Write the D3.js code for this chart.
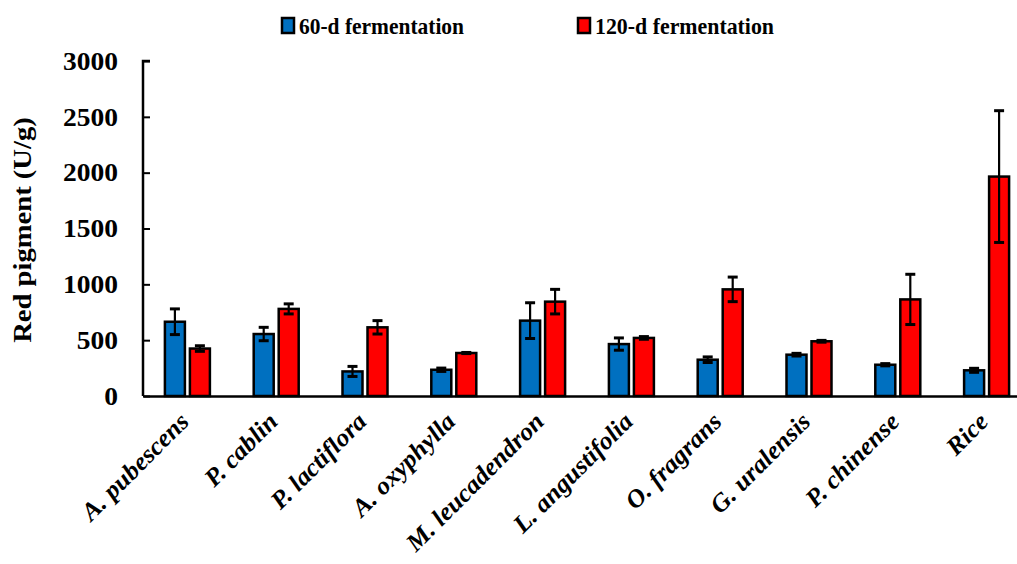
<!DOCTYPE html>
<html><head><meta charset="utf-8">
<script src="https://cdn.jsdelivr.net/npm/d3@7"></script>
<style>
html,body{margin:0;padding:0;background:#fff;}
svg{display:block;font-family:"Liberation Serif","Times New Roman",serif;}
</style></head>
<body><svg id="chart" width="1017" height="564"></svg>
<script>
const categories = ["A. pubescens","P. cablin","P. lactiflora","A. oxyphylla","M. leucadendron","L. angustifolia","O. fragrans","G. uralensis","P. chinense","Rice"];
const series = ["60-d fermentation","120-d fermentation"];
const values60 = [665, 555, 220, 235, 675, 465, 325, 370, 280, 230];
const err60 = [115, 60, 45, 15, 160, 55, 25, 12, 10, 18];
const values120 = [425, 780, 615, 385, 845, 520, 955, 490, 865, 1965];
const err120 = [25, 45, 60, 5, 110, 12, 110, 8, 225, 590];
const yTicks = [0, 500, 1000, 1500, 2000, 2500, 3000];
const colors = ["#0070C0", "#FF0000"];

(function(){
const svg = d3.select("#chart");
const mLeft = 143, mTop = 61, mBottom = 396, mRight = 1031;
const x = d3.scaleBand().domain(categories).range([mLeft, mRight]).paddingInner(0).paddingOuter(0);
const y = d3.scaleLinear().domain([0, 3000]).range([mBottom, mTop]);
const bw = 20, gap = 5;

const data = categories.map((c, i) => [
  {c, s: 0, v: values60[i], e: err60[i]},
  {c, s: 1, v: values120[i], e: err120[i]}
]).flat();
const bx = d => x(d.c) + x.bandwidth()/2 + (d.s === 0 ? -(gap/2 + bw) : gap/2);

svg.append("g").selectAll("rect").data(data).join("rect")
  .attr("x", bx).attr("y", d => y(d.v))
  .attr("width", bw).attr("height", d => y(0) - y(d.v))
  .attr("fill", d => colors[d.s]).attr("stroke", "#000").attr("stroke-width", 2.5);

const eb = svg.append("g").attr("stroke", "#000").attr("stroke-width", 2.2);
data.forEach(d => {
  const cx = bx(d) + bw/2;
  eb.append("line").attr("x1", cx).attr("x2", cx).attr("y1", y(d.v + d.e)).attr("y2", y(d.v - d.e));
  eb.append("line").attr("x1", cx-5).attr("x2", cx+5).attr("y1", y(d.v + d.e)).attr("y2", y(d.v + d.e)).attr("stroke-width", 3);
  eb.append("line").attr("x1", cx-5).attr("x2", cx+5).attr("y1", y(d.v - d.e)).attr("y2", y(d.v - d.e)).attr("stroke-width", 3);
});

// Y axis
const yAxis = svg.append("g").attr("transform", `translate(${mLeft},0)`)
  .call(d3.axisRight(y).tickValues(yTicks).tickSize(7).tickFormat(""));
yAxis.select(".domain").attr("stroke", "#000").attr("stroke-width", 2.5).attr("d", `M7,${mTop}H0V${mBottom}`);
yAxis.selectAll(".tick line").attr("stroke", "#000").attr("stroke-width", 2);
svg.append("g").selectAll("text").data(yTicks).join("text")
  .attr("transform", d => `translate(118,${y(d)}) scale(1.1,1)`)
  .attr("dy", "0.35em")
  .attr("text-anchor", "end").attr("font-size", 25).attr("font-weight", "bold")
  .text(d => d);

// X axis
const xAxis = svg.append("g").attr("transform", `translate(0,${mBottom})`)
  .call(d3.axisBottom(x).tickSize(0).tickFormat(""));
xAxis.select(".domain").attr("stroke", "#000").attr("stroke-width", 2.5);
svg.append("g").selectAll("text").data(categories).join("text")
  .attr("transform", d => `translate(${x(d) + x.bandwidth()/2 + 3},${mBottom + 27}) rotate(-45) scale(1.04,1)`)
  .attr("text-anchor", "end").attr("font-size", 25).attr("font-weight", "bold")
  .attr("font-style", "italic")
  .text(d => d);

// Y title
svg.append("text").attr("transform", `translate(31,230) rotate(-90) scale(1.1,1)`)
  .attr("text-anchor", "middle").attr("font-size", 26).attr("font-weight", "bold")
  .text("Red pigment (U/g)");

// Legend
const lg = svg.append("g");
const lx = [282, 578];
const lw = [165, 179];
series.forEach((s, i) => {
  lg.append("rect").attr("x", lx[i]).attr("y", 18).attr("width", 12).attr("height", 15)
    .attr("fill", colors[i]).attr("stroke", "#000").attr("stroke-width", 2.5);
  lg.append("text").attr("x", lx[i] + 17).attr("y", 34).attr("font-size", 23).attr("font-weight", "bold")
    .attr("textLength", lw[i]).attr("lengthAdjust", "spacingAndGlyphs").text(s);
});
})();
</script></body></html>
